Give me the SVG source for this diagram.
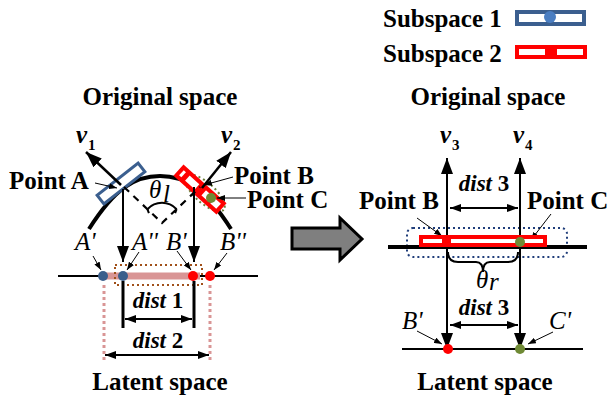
<svg xmlns="http://www.w3.org/2000/svg" width="610" height="400" viewBox="0 0 610 400">
<defs>
<style>
.t{font-family:"Liberation Serif","Times New Roman",serif;font-weight:bold;font-size:25px;fill:#000}
.it{font-family:"Liberation Serif","Times New Roman",serif;font-style:italic;font-size:25px;fill:#000}
.d{font-family:"Liberation Serif","Times New Roman",serif;font-weight:bold;font-size:23px;fill:#000}
.sub{font-family:"Liberation Serif","Times New Roman",serif;font-weight:bold;font-size:15px;fill:#000}
.ln{stroke:#000;fill:none}
</style>
<marker id="big" viewBox="0 0 16 12" markerWidth="16" markerHeight="12" refX="16" refY="6" orient="auto-start-reverse" markerUnits="userSpaceOnUse"><path d="M0,0 L16,6 L0,12 z" fill="#000"/></marker>
<marker id="med" viewBox="0 0 11 8" markerWidth="11" markerHeight="8" refX="11" refY="4" orient="auto-start-reverse" markerUnits="userSpaceOnUse"><path d="M0,0 L11,4 L0,8 z" fill="#000"/></marker>
<marker id="sm" viewBox="0 0 8 6" markerWidth="8" markerHeight="6" refX="8" refY="3" orient="auto" markerUnits="userSpaceOnUse"><path d="M0,0 L8,3 L0,6 z" fill="#000"/></marker>
</defs>
<rect width="610" height="400" fill="#fff"/>

<g id="legend">
<text class="t" x="383" y="27">Subspace 1</text>
<rect x="517" y="12" width="67" height="12" fill="#fff" stroke="#3b5f8f" stroke-width="4"/>
<circle cx="550" cy="17" r="6" fill="#4a7ec2"/>
<text class="t" x="383" y="62">Subspace 2</text>
<rect x="517" y="47" width="68" height="10" fill="#fff" stroke="#ff0000" stroke-width="4"/>
<rect x="545" y="47" width="12" height="10" fill="#ff0000"/>
</g>

<g id="left-original">
<text class="t" x="160" y="105" text-anchor="middle">Original space</text>
<path d="M89,229 C115,188 135,176 160,176 C185,176 205,188 231,229" class="ln" stroke-width="4"/>
<ellipse cx="205" cy="193" rx="25" ry="10" transform="rotate(42 205 193)" fill="none" stroke="#6b7f3a" stroke-width="2" stroke-dasharray="2,3"/>
<rect x="95" y="178" width="52" height="11" transform="rotate(-38 121 183.5)" fill="#fff" stroke="#3b5f8f" stroke-width="3"/>
<rect x="173" y="184" width="54" height="11" transform="rotate(42 200 189.5)" fill="#fff" stroke="#ff0000" stroke-width="4"/>
<rect x="196" y="184" width="9" height="11" transform="rotate(42 200 189.5)" fill="#ff0000"/>
<rect x="178" y="184" width="5" height="11" transform="rotate(42 200 189.5)" fill="#ff0000"/>
<rect x="213" y="184" width="4" height="11" transform="rotate(42 200 189.5)" fill="#ff0000"/>
<circle cx="211" cy="198" r="5" fill="#6f8a35"/>
<text class="it" x="76" y="143" font-weight="bold">v</text><text class="sub" x="88" y="150">1</text>
<text class="it" x="221" y="143" font-weight="bold">v</text><text class="sub" x="233" y="150">2</text>
<path d="M124,187 L162,223 L200,187" class="ln" stroke-width="2.2" stroke-dasharray="7,6"/>
<path d="M147.4,209.2 A20,20 0 0 1 176.6,209.2" class="ln" stroke-width="2"/>
<path d="M147.4,209.2 l1.5,4 M176.6,209.2 l-1.5,4" class="ln" stroke-width="2"/>
<text class="it" x="149" y="198" font-size="15">θ</text><text class="it" x="163" y="202" font-size="10">l</text>
<text class="t" x="9" y="189">Point A</text>
<text class="t" x="234" y="184">Point B</text>
<text class="t" x="247" y="208">Point C</text>
</g>

<g id="left-latent">
<line x1="58" y1="276" x2="258" y2="276" class="ln" stroke-width="2"/>
<line x1="104" y1="276" x2="200" y2="276" stroke="#d99595" stroke-width="7"/>
<rect x="115" y="265" width="87" height="20" fill="none" stroke="#a0501a" stroke-width="2" stroke-dasharray="2,3"/>
<circle cx="103" cy="276" r="5" fill="#3b5f8c"/>
<circle cx="123" cy="276" r="5" fill="#3b5f8c"/>
<circle cx="193" cy="276" r="5" fill="#ff0000"/>
<circle cx="210" cy="276" r="5" fill="#ff0000"/>
<line x1="104" y1="285" x2="104" y2="362" stroke="#d99595" stroke-width="3" stroke-dasharray="3,3"/>
<line x1="210" y1="285" x2="210" y2="362" stroke="#d99595" stroke-width="3" stroke-dasharray="3,3"/>
<line x1="123" y1="281" x2="123" y2="328" class="ln" stroke-width="3"/>
<line x1="194" y1="281" x2="194" y2="328" class="ln" stroke-width="3"/>
<text class="it" x="75" y="250">A'</text>
<text class="it" x="132" y="250">A''</text>
<text class="it" x="166" y="250">B'</text>
<text class="it" x="220" y="250">B''</text>
<text class="d" x="158" y="308" text-anchor="middle"><tspan font-style="italic">dist</tspan> 1</text>
<text class="d" x="158" y="348" text-anchor="middle"><tspan font-style="italic">dist</tspan> 2</text>
<text class="t" x="160" y="390" text-anchor="middle">Latent space</text>
</g>

<g id="transform-arrow">
<path d="M292,228 L340,228 L340,218 L362,239 L340,260 L340,249 L292,249 z" fill="#7f7f7f" stroke="#000" stroke-width="3" stroke-linejoin="miter"/>
</g>

<g id="right-original">
<text class="t" x="488" y="105" text-anchor="middle">Original space</text>
<text class="it" x="440" y="143" font-weight="bold">v</text><text class="sub" x="452" y="150">3</text>
<text class="it" x="513" y="143" font-weight="bold">v</text><text class="sub" x="525" y="150">4</text>
<text class="d" x="484" y="191" text-anchor="middle"><tspan font-style="italic">dist</tspan> 3</text>
<text class="t" x="359" y="209">Point B</text>
<text class="t" x="527" y="209">Point C</text>
<rect x="407" y="228" width="160" height="29" rx="6" fill="none" stroke="#1f3d7a" stroke-width="2" stroke-dasharray="2,3"/>
<line x1="388" y1="247" x2="587" y2="247" class="ln" stroke-width="4"/>
</g>

<g id="right-latent">
<line x1="402" y1="349" x2="583" y2="349" class="ln" stroke-width="2"/>
<text class="it" x="476" y="288" font-size="15">θ</text><text class="it" x="489" y="290" font-size="9">r</text>
<text class="d" x="484" y="315" text-anchor="middle"><tspan font-style="italic">dist</tspan> 3</text>
<text class="it" x="402" y="329">B'</text>
<text class="it" x="549" y="329">C'</text>
<text class="t" x="485" y="390" text-anchor="middle">Latent space</text>
</g>

<g id="connectors">
<line x1="121" y1="185" x2="86" y2="152" class="ln" stroke-width="2.5" marker-end="url(#big)"/>
<line x1="202" y1="188" x2="231" y2="152" class="ln" stroke-width="2.5" marker-end="url(#big)"/>
<line x1="123" y1="189" x2="123" y2="262" class="ln" stroke-width="2" marker-end="url(#big)"/>
<line x1="194" y1="187" x2="194" y2="262" class="ln" stroke-width="2" marker-end="url(#big)"/>
<line x1="95" y1="183" x2="117" y2="188" class="ln" stroke-width="1" marker-end="url(#sm)"/>
<line x1="233" y1="177" x2="204" y2="185" class="ln" stroke-width="1" marker-end="url(#sm)"/>
<line x1="246" y1="198" x2="217" y2="198" class="ln" stroke-width="1" marker-end="url(#sm)"/>
<line x1="93" y1="256" x2="101" y2="270" class="ln" stroke-width="1" marker-end="url(#sm)"/>
<line x1="139" y1="252" x2="127" y2="270" class="ln" stroke-width="1" marker-end="url(#sm)"/>
<line x1="177" y1="251" x2="191" y2="270" class="ln" stroke-width="1" marker-end="url(#sm)"/>
<line x1="227" y1="253" x2="214" y2="270" class="ln" stroke-width="1" marker-end="url(#sm)"/>
<line x1="125" y1="319" x2="192" y2="319" class="ln" stroke-width="2" marker-start="url(#med)" marker-end="url(#med)"/>
<line x1="105" y1="355" x2="209" y2="355" class="ln" stroke-width="2" marker-start="url(#med)" marker-end="url(#med)"/>
<line x1="447" y1="349" x2="447" y2="158" class="ln" stroke-width="2" marker-start="url(#big)" marker-end="url(#big)"/>
<line x1="520" y1="349" x2="520" y2="158" class="ln" stroke-width="2" marker-start="url(#big)" marker-end="url(#big)"/>
<line x1="450" y1="208" x2="518" y2="208" class="ln" stroke-width="2" marker-start="url(#med)" marker-end="url(#med)"/>
<line x1="450" y1="325" x2="518" y2="325" class="ln" stroke-width="2" marker-start="url(#med)" marker-end="url(#med)"/>
<path d="M448,252 Q448,262 458,262 L476,262 Q483,262 483,272 Q483,262 490,262 L508,262 Q518,262 518,252" class="ln" stroke-width="2"/>
<line x1="417" y1="218" x2="442" y2="236" class="ln" stroke-width="1" marker-end="url(#sm)"/>
<line x1="551" y1="214" x2="531" y2="240" class="ln" stroke-width="1" marker-end="url(#sm)"/>
<line x1="417" y1="331" x2="442" y2="344" class="ln" stroke-width="1" marker-end="url(#sm)"/>
<line x1="553" y1="332" x2="528" y2="344" class="ln" stroke-width="1" marker-end="url(#sm)"/>
</g>

<g id="right-bar">
<rect x="421" y="237" width="124" height="8" fill="#fff" stroke="#ff0000" stroke-width="4"/>
<rect x="442" y="237" width="9" height="8" fill="#ff0000"/>
<circle cx="520" cy="242" r="5" fill="#6f8a35"/>
<circle cx="448" cy="349" r="5" fill="#ff0000"/>
<circle cx="520" cy="349" r="5" fill="#6f8a35"/>
</g>
</svg>
